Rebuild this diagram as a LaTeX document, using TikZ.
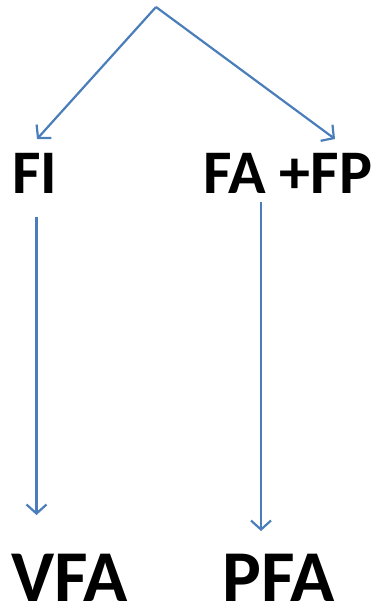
\documentclass[tikz,border=0pt]{standalone}
\usepackage{fontspec}
\setmainfont{Carlito}
\usetikzlibrary{arrows.meta}
\definecolor{arrblue}{RGB}{74,126,187}
\tikzset{
  lbl/.style={inner sep=0pt, anchor=base west, font=\bfseries},
  arr/.style={draw=arrblue, line width=2.2pt, -{Straight Barb[length=9pt,width=20pt,line width=2.2pt]}}
}
\begin{document}
\begin{tikzpicture}[x=1pt,y=-1pt]
\useasboundingbox (0,0) rectangle (378,604);
\node[lbl, font=\bfseries\fontsize{62}{62}\selectfont] (fi) at (12,193) {FI};
\node[lbl, font=\bfseries\fontsize{62}{62}\selectfont] (fafp) at (203,193) {FA +FP};
\node[lbl, font=\bfseries\fontsize{73}{73}\selectfont] (vfa) at (11,601) {VFA};
\node[lbl, font=\bfseries\fontsize{73}{73}\selectfont] (pfa) at (222,601) {PFA};
\coordinate (top) at (156,7);
\coordinate (tfi) at (37,139);
\coordinate (tfafp) at (335,139);
\coordinate (sfi) at (36.5,217);
\coordinate (evfa) at (36.5,515);
\coordinate (sfafp) at (261,202);
\coordinate (epfa) at (261,531);
\draw[arr] (top) -- (tfi);
\draw[arr] (top) -- (tfafp);
\draw[arr] (sfi) -- (evfa);
\draw[arr] (sfafp) -- (epfa);
\end{tikzpicture}
\end{document}
